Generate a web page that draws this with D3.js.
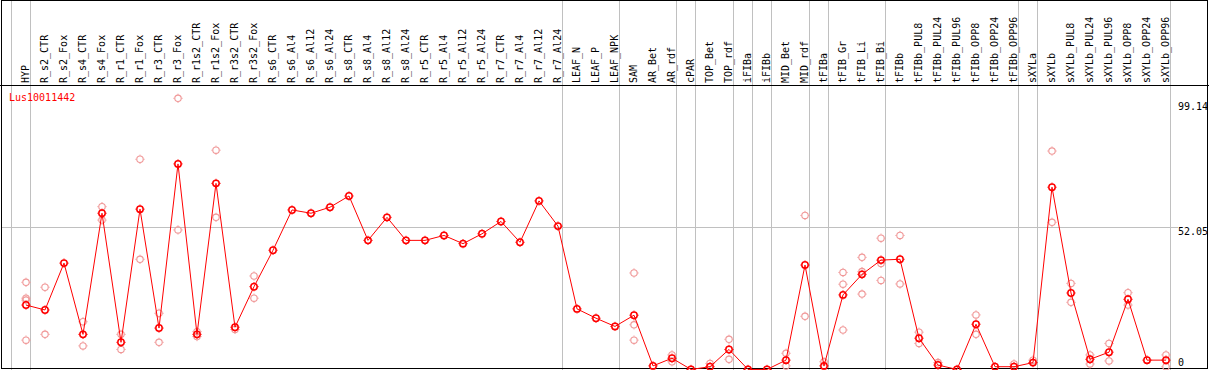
<!DOCTYPE html>
<html>
<head>
<meta charset="utf-8">
<script src="https://cdn.jsdelivr.net/npm/d3@7"></script>
<style>
  html, body { margin: 0; padding: 0; background: #fff; }
  svg { display: block; }
  text { font-family: "DejaVu Sans Mono", monospace; font-size: 10px; }
</style>
</head>
<body>
<svg id="chart" width="1209" height="370"></svg>
<script>
const title = "Lus10011442";
const categories = ["HYP","R_s2_CTR","R_s2_Fox","R_s4_CTR","R_s4_Fox","R_r1_CTR","R_r1_Fox","R_r3_CTR","R_r3_Fox","R_r1s2_CTR","R_r1s2_Fox","R_r3s2_CTR","R_r3s2_Fox","R_s6_CTR","R_s6_Al4","R_s6_Al12","R_s6_Al24","R_s8_CTR","R_s8_Al4","R_s8_Al12","R_s8_Al24","R_r5_CTR","R_r5_Al4","R_r5_Al12","R_r5_Al24","R_r7_CTR","R_r7_Al4","R_r7_Al12","R_r7_Al24","LEAF_N","LEAF_P","LEAF_NPK","SAM","AR_Bet","AR_rdf","cPAR","TOP_Bet","TOP_rdf","iFIBa","iFIBb","MID_Bet","MID_rdf","tFIBa","tFIB_Gr","tFIB_Li","tFIB_Bi","tFIBb","tFIBb_PUL8","tFIBb_PUL24","tFIBb_PUL96","tFIBb_OPP8","tFIBb_OPP24","tFIBb_OPP96","sXYLa","sXYLb","sXYLb_PUL8","sXYLb_PUL24","sXYLb_PUL96","sXYLb_OPP8","sXYLb_OPP24","sXYLb_OPP96"];
const means = [23.7,21.9,39.0,13.0,57.2,10.1,58.7,15.3,75.2,13.0,68.1,15.6,30.4,43.7,58.4,57.2,59.4,63.5,47.3,55.7,47.3,47.3,49.1,46.1,49.7,54.2,46.6,61.7,52.5,22.3,18.9,15.9,20.0,1.5,4.3,0.2,1.2,7.5,0.2,0.2,3.6,38.3,1.5,27.4,34.9,40.1,40.4,11.6,1.8,0.2,16.7,1.2,1.2,2.7,66.7,28.1,3.9,6.5,25.8,3.6,3.6];
const replicates = [[32.0,26.2,25.5,10.9],[30.2,13.0],[],[17.6,8.8],[59.6,54.7],[13.0,7.5],[76.9,40.4],[20.7,10.1],[99.14,51.1],[14.0,12.2],[80.2,55.7],[14.8],[34.3,26.2],[],[],[],[],[],[],[],[],[],[],[],[],[],[],[],[],[],[],[],[35.4,16.5,10.9],[],[5.5,3.0],[],[2.4],[11.2,3.9],[],[],[6.1,1.5],[56.4,19.6],[3.0],[35.6,31.3,14.6],[41.1,35.9,27.7],[48.1,38.9,32.7],[49.1,31.4],[13.8,9.7],[2.7],[],[20.1,13.0],[],[2.2],[3.6],[79.9,53.9],[31.6,24.7],[5.5,2.2],[9.7,3.3],[28.2,23.7],[],[5.5,1.2]];
const groupEnds = ["HYP","R_r7_Al24","LEAF_NPK","AR_rdf","cPAR","TOP_rdf","iFIBa","iFIBb","MID_rdf","tFIBa","tFIB_Bi","tFIBb_OPP96","sXYLa","sXYLb_OPP96"];
const yTicks = [99.14, 52.05, 0];

const W = 1209, H = 370;
const svg = d3.select("#chart");
const x = d3.scalePoint().domain(categories).range([26, 1166]);
const step = x.step();
const y = d3.scaleLinear().domain([0, 99.14]).range([370, 98.3]);

// vertical group separators
const sepX = [x(categories[0]) - step + 4].concat(groupEnds.map(c => x(c) + 4));
svg.append("g").selectAll("line").data(sepX).join("line")
  .attr("x1", d => Math.round(d) + 0.5).attr("x2", d => Math.round(d) + 0.5)
  .attr("y1", 0).attr("y2", H)
  .attr("stroke", "#c0c0c0").attr("stroke-width", 1);

// horizontal mid grid line
svg.append("line")
  .attr("x1", 1).attr("x2", 1178)
  .attr("y1", Math.round(y(yTicks[1])) + 0.5).attr("y2", Math.round(y(yTicks[1])) + 0.5)
  .attr("stroke", "#c0c0c0");

// frame
svg.append("rect").attr("x", 1.5).attr("y", 0.5).attr("width", 1206).attr("height", 368)
  .attr("fill", "none").attr("stroke", "#000");
svg.append("line").attr("x1", 0).attr("x2", W).attr("y1", 85.5).attr("y2", 85.5).attr("stroke", "#000");

// category labels
svg.append("g").selectAll("text").data(categories).join("text")
  .attr("transform", d => `translate(${x(d) + 3},83) rotate(-90)`)
  .attr("fill", "#000")
  .text(d => d);

// y axis labels
const labelOffset = [12, 8, -4.5];
svg.append("g").selectAll("text").data(yTicks).join("text")
  .attr("x", 1178).attr("y", (d, i) => y(d) + labelOffset[i])
  .attr("fill", "#000")
  .text(d => d === 0 ? "0" : d.toFixed(2));

// title
svg.append("text").attr("x", 9).attr("y", 101).attr("fill", "#ff0000").text(title);

const plot = svg.append("g");

function marker(g, cx, cy, color, sw) {
  g.append("circle").attr("cx", cx).attr("cy", cy).attr("r", 3.2)
    .attr("fill", "none").attr("stroke", color).attr("stroke-width", sw);
  const t = [[0,-1],[0,1],[-1,0],[1,0]];
  t.forEach(([dx, dy]) => {
    g.append("line")
      .attr("x1", cx + dx * 3.5).attr("y1", cy + dy * 3.5)
      .attr("x2", cx + dx * 4.6).attr("y2", cy + dy * 4.6)
      .attr("stroke", color).attr("stroke-width", 1);
  });
}

// replicates
const repG = plot.append("g");
categories.forEach((c, i) => {
  replicates[i].forEach(v => marker(repG, x(c), y(v), "#f09898", 1.1));
});

// mean line
const line = d3.line().x((d, i) => x(categories[i])).y(d => y(d));
plot.append("path").datum(means).attr("d", line)
  .attr("fill", "none").attr("stroke", "#ff0000").attr("stroke-width", 1);

// means
const meanG = plot.append("g");
categories.forEach((c, i) => marker(meanG, x(c), y(means[i]), "#ff0000", 1.5));
</script>
</body>
</html>
